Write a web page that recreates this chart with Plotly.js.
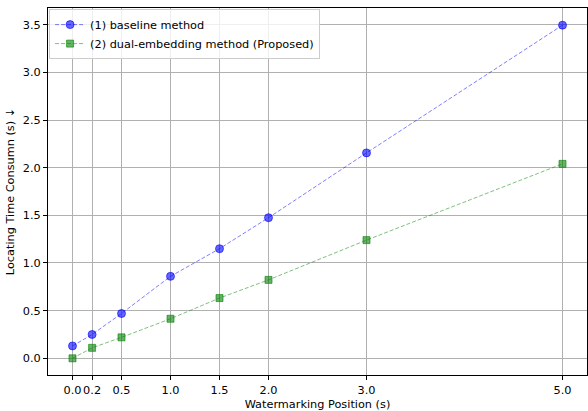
<!DOCTYPE html>
<html>
<head>
<meta charset="utf-8">
<script src="https://cdn.plot.ly/plotly-3.0.1.min.js"></script>
<style>html,body{margin:0;padding:0;background:#fff;}#chart{width:588px;height:411px;}</style>
</head>
<body>
<div id="chart"></div>
<script>
const positions = [0.0, 0.2, 0.5, 1.0, 1.5, 2.0, 3.0, 5.0];
const tickLabels = ['0.0', '0.2', '0.5', '1.0', '1.5', '2.0', '3.0', '5.0'];
const baseline = [0.13, 0.25, 0.47, 0.86, 1.15, 1.475, 2.155, 3.495];
const proposed = [0.0, 0.11, 0.22, 0.415, 0.632, 0.823, 1.24, 2.04];
const seriesNames = ['(1) baseline method', '(2) dual-embedding method (Proposed)'];
const yTicks = [0.0, 0.5, 1.0, 1.5, 2.0, 2.5, 3.0, 3.5];

const font = {family: 'DejaVu Sans, sans-serif', size: 11.3, color: '#000'};

const traces = [
  {
    x: positions, y: baseline, name: seriesNames[0], type: 'scatter', mode: 'lines+markers',
    line: {color: 'rgba(0,0,255,0.5)', width: 1, dash: '4px,2px'},
    marker: {symbol: 'circle', size: 8, color: 'rgba(0,0,255,0.6)', line: {width: 1, color: 'rgba(0,0,255,0.6)'}}
  },
  {
    x: positions, y: proposed, name: seriesNames[1], type: 'scatter', mode: 'lines+markers',
    line: {color: 'rgba(0,128,0,0.5)', width: 1, dash: '4px,2px'},
    marker: {symbol: 'square', size: 7, color: 'rgba(0,128,0,0.6)', line: {width: 1, color: 'rgba(0,128,0,0.6)'}}
  }
];

const layout = {
  width: 588, height: 411,
  margin: {l: 48, r: 1, t: 8, b: 36},
  paper_bgcolor: '#fff', plot_bgcolor: '#fff',
  font: font,
  showlegend: true,
  legend: {
    x: 0.002, y: 0.997, xanchor: 'left', yanchor: 'top',
    bgcolor: 'rgba(255,255,255,0.8)', bordercolor: '#cccccc', borderwidth: 1,
    font: font, tracegroupgap: 0, itemwidth: 30
  },
  xaxis: {
    range: [-0.25, 5.25],
    tickmode: 'array', tickvals: positions, ticktext: tickLabels, tickangle: 0,
    showgrid: true, gridcolor: '#b0b0b0', gridwidth: 1,
    zeroline: false,
    showline: true, linecolor: '#000', linewidth: 1, mirror: true,
    ticks: 'outside', ticklen: 4, tickcolor: '#000', tickwidth: 1,
    tickfont: font,
    title: {text: 'Watermarking Position (s)', font: font, standoff: 5}
  },
  yaxis: {
    range: [-0.175, 3.675],
    tickmode: 'array', tickvals: yTicks, ticktext: yTicks.map(v => v.toFixed(1)),
    showgrid: true, gridcolor: '#b0b0b0', gridwidth: 1,
    zeroline: false,
    showline: true, linecolor: '#000', linewidth: 1, mirror: true,
    ticks: 'outside', ticklen: 4, tickcolor: '#000', tickwidth: 1,
    tickfont: font,
    title: {text: 'Locating Time Consumn (s) ↓', font: font, standoff: 5}
  }
};

Plotly.newPlot('chart', traces, layout, {displayModeBar: false, staticPlot: true});
</script>
</body>
</html>
